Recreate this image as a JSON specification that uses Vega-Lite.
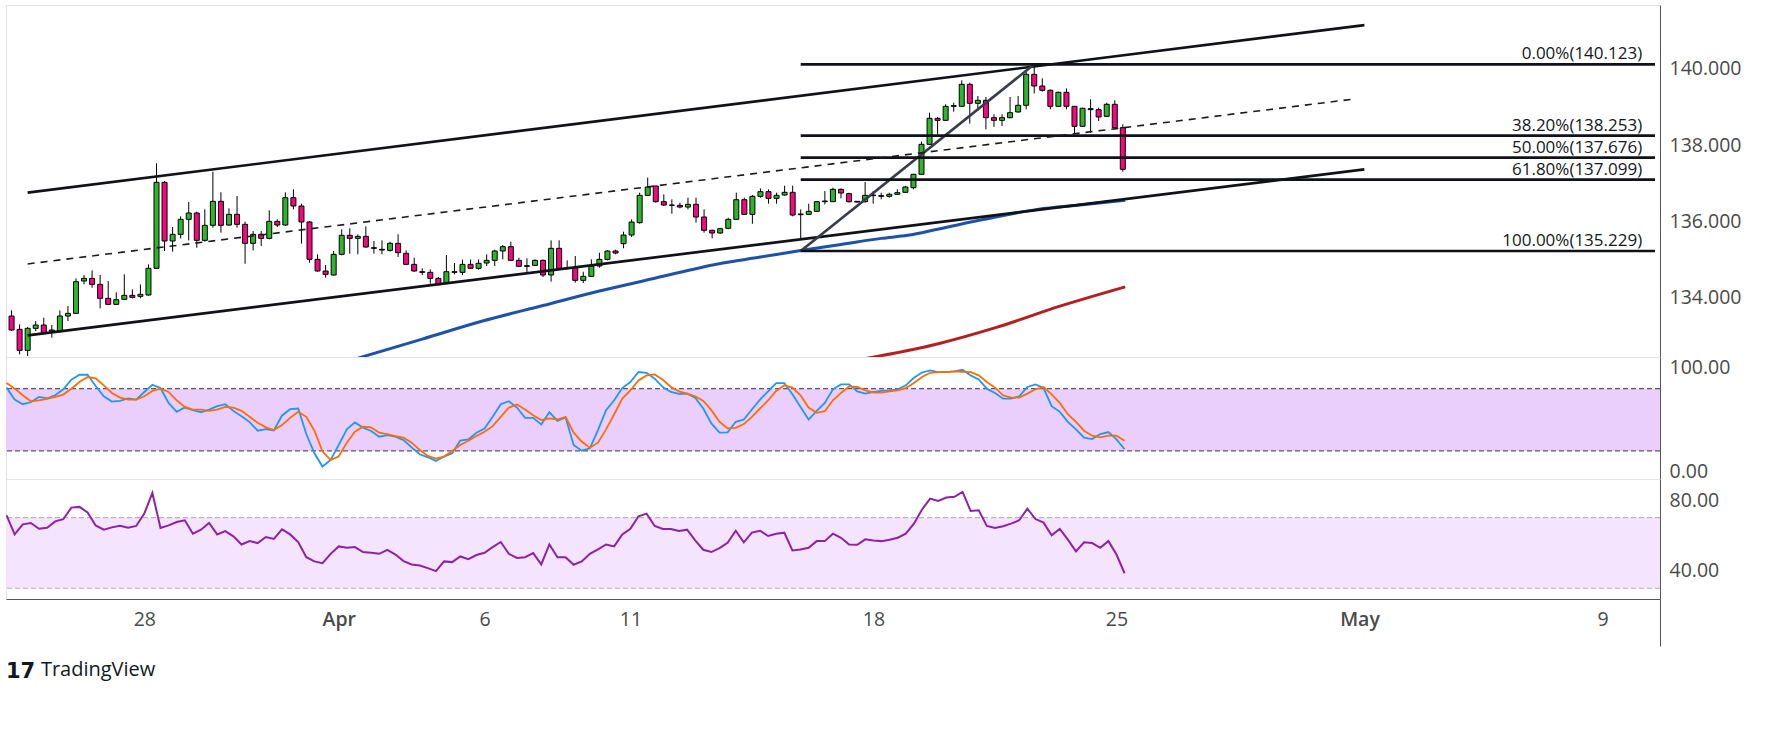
{
  "$schema": "https://vega.github.io/schema/vega-lite/v6.json",
  "background": "white",
  "padding": {"left": 4, "top": 4, "right": 5, "bottom": 5},
  "spacing": 0,
  "bounds": "flush",
  "title": {"text": "TradingView", "orient": "bottom", "anchor": "start", "font": "Open Sans", "fontSize": 20, "fontWeight": "normal", "color": "#131722", "offset": -22, "dx": 36},
  "datasets": {
    "bars": [
      {"i":-17,"o":133.525,"h":133.674,"l":133.132,"c":133.158,"k":81.0,"d":85.4,"r":71.3},
      {"i":-16,"o":133.176,"h":133.307,"l":132.520,"c":132.625,"k":69.5,"d":80.0,"r":60.5},
      {"i":-15,"o":132.625,"h":133.237,"l":132.477,"c":133.202,"k":65.0,"d":73.6,"r":66.2},
      {"i":-14,"o":133.202,"h":133.394,"l":133.132,"c":133.289,"k":66.9,"d":67.9,"r":67.0},
      {"i":-13,"o":133.289,"h":133.481,"l":133.062,"c":133.088,"k":72.0,"d":68.8,"r":63.7},
      {"i":-12,"o":133.132,"h":133.289,"l":132.957,"c":133.158,"k":70.7,"d":70.1,"r":64.3},
      {"i":-11,"o":133.132,"h":133.674,"l":133.088,"c":133.525,"k":73.6,"d":72.0,"r":67.9},
      {"i":-10,"o":133.525,"h":133.787,"l":133.394,"c":133.595,"k":79.4,"d":74.3,"r":69.1},
      {"i":-9,"o":133.595,"h":134.512,"l":133.586,"c":134.425,"k":88.6,"d":80.0,"r":75.7},
      {"i":-8,"o":134.443,"h":134.600,"l":134.355,"c":134.512,"k":93.4,"d":86.4,"r":76.1},
      {"i":-7,"o":134.512,"h":134.722,"l":134.268,"c":134.355,"k":93.4,"d":91.2,"r":73.0},
      {"i":-6,"o":134.355,"h":134.600,"l":133.726,"c":133.988,"k":82.6,"d":89.9,"r":65.6},
      {"i":-5,"o":133.988,"h":134.443,"l":133.813,"c":133.831,"k":72.7,"d":83.2,"r":63.2},
      {"i":-4,"o":133.831,"h":134.146,"l":133.813,"c":133.953,"k":67.6,"d":75.9,"r":64.5},
      {"i":-3,"o":133.962,"h":134.617,"l":133.953,"c":134.067,"k":68.2,"d":71.4,"r":65.4},
      {"i":-2,"o":134.067,"h":134.224,"l":133.988,"c":134.014,"k":70.7,"d":69.5,"r":64.3},
      {"i":-1,"o":134.041,"h":134.355,"l":133.988,"c":134.093,"k":69.5,"d":69.5,"r":65.3},
      {"i":0,"o":134.076,"h":134.879,"l":134.058,"c":134.775,"k":76.8,"d":72.7,"r":72.3},
      {"i":1,"o":134.775,"h":137.527,"l":134.757,"c":137.029,"k":83.8,"d":77.8,"r":84.0},
      {"i":2,"o":137.029,"h":137.064,"l":135.229,"c":135.491,"k":80.6,"d":80.0,"r":64.1},
      {"i":3,"o":135.491,"h":135.858,"l":135.211,"c":135.666,"k":66.3,"d":76.8,"r":65.6},
      {"i":4,"o":135.666,"h":136.138,"l":135.561,"c":136.059,"k":57.7,"d":68.8,"r":67.5},
      {"i":5,"o":136.059,"h":136.513,"l":135.508,"c":136.225,"k":61.8,"d":62.4,"r":68.5},
      {"i":6,"o":136.225,"h":136.260,"l":135.316,"c":135.508,"k":59.3,"d":59.9,"r":60.9},
      {"i":7,"o":135.508,"h":136.321,"l":135.474,"c":135.902,"k":57.3,"d":59.9,"r":63.2},
      {"i":8,"o":135.902,"h":137.308,"l":135.840,"c":136.531,"k":59.9,"d":58.6,"r":67.0},
      {"i":9,"o":136.531,"h":136.767,"l":135.709,"c":135.902,"k":63.1,"d":59.9,"r":60.5},
      {"i":10,"o":135.910,"h":136.347,"l":135.884,"c":136.190,"k":65.0,"d":62.4,"r":62.4},
      {"i":11,"o":136.190,"h":136.671,"l":135.840,"c":135.928,"k":58.6,"d":61.8,"r":59.4},
      {"i":12,"o":135.928,"h":135.998,"l":134.897,"c":135.430,"k":53.5,"d":58.6,"r":54.8},
      {"i":13,"o":135.430,"h":135.753,"l":135.246,"c":135.666,"k":47.8,"d":52.9,"r":56.7},
      {"i":14,"o":135.666,"h":135.753,"l":135.360,"c":135.561,"k":39.5,"d":47.1,"r":55.6},
      {"i":15,"o":135.561,"h":136.295,"l":135.535,"c":136.006,"k":41.1,"d":42.7,"r":59.0},
      {"i":16,"o":136.006,"h":136.059,"l":135.858,"c":135.910,"k":39.8,"d":40.1,"r":57.9},
      {"i":17,"o":135.910,"h":136.767,"l":135.893,"c":136.627,"k":54.2,"d":44.9,"r":63.4},
      {"i":18,"o":136.627,"h":136.845,"l":136.321,"c":136.408,"k":60.2,"d":51.9,"r":60.5},
      {"i":19,"o":136.408,"h":136.470,"l":135.421,"c":135.989,"k":60.9,"d":57.7,"r":56.2},
      {"i":20,"o":135.989,"h":136.015,"l":134.923,"c":135.010,"k":36.3,"d":52.9,"r":47.6},
      {"i":21,"o":135.010,"h":135.142,"l":134.687,"c":134.705,"k":17.8,"d":39.5,"r":45.2},
      {"i":22,"o":134.705,"h":134.862,"l":134.530,"c":134.617,"k":5.0,"d":19.4,"r":44.2},
      {"i":23,"o":134.600,"h":135.229,"l":134.582,"c":135.142,"k":11.4,"d":11.4,"r":49.5},
      {"i":24,"o":135.142,"h":135.797,"l":135.115,"c":135.640,"k":25.8,"d":14.6,"r":53.7},
      {"i":25,"o":135.640,"h":135.823,"l":135.159,"c":135.561,"k":40.8,"d":28.0,"r":52.9},
      {"i":26,"o":135.561,"h":135.666,"l":135.142,"c":135.613,"k":47.5,"d":38.5,"r":53.3},
      {"i":27,"o":135.613,"h":135.875,"l":135.316,"c":135.334,"k":42.3,"d":43.3,"r":50.5},
      {"i":28,"o":135.316,"h":135.491,"l":135.159,"c":135.299,"k":39.2,"d":42.7,"r":50.1},
      {"i":29,"o":135.273,"h":135.508,"l":135.142,"c":135.255,"k":33.7,"d":37.6,"r":49.5},
      {"i":30,"o":135.246,"h":135.474,"l":135.211,"c":135.430,"k":35.3,"d":36.3,"r":51.8},
      {"i":31,"o":135.430,"h":135.666,"l":135.072,"c":135.185,"k":33.7,"d":34.4,"r":49.1},
      {"i":32,"o":135.168,"h":135.246,"l":134.862,"c":134.879,"k":30.5,"d":32.8,"r":45.4},
      {"i":33,"o":134.879,"h":135.054,"l":134.687,"c":134.705,"k":23.5,"d":28.0,"r":43.5},
      {"i":34,"o":134.687,"h":134.775,"l":134.600,"c":134.670,"k":16.8,"d":21.0,"r":42.9},
      {"i":35,"o":134.670,"h":134.748,"l":134.373,"c":134.512,"k":13.9,"d":15.2,"r":41.4},
      {"i":36,"o":134.512,"h":134.547,"l":134.320,"c":134.373,"k":10.4,"d":12.7,"r":39.7},
      {"i":37,"o":134.399,"h":135.124,"l":134.355,"c":134.687,"k":14.6,"d":14.6,"r":45.2},
      {"i":38,"o":134.687,"h":134.914,"l":134.617,"c":134.670,"k":17.8,"d":20.0,"r":44.8},
      {"i":39,"o":134.670,"h":135.002,"l":134.600,"c":134.879,"k":29.9,"d":25.8,"r":48.0},
      {"i":40,"o":134.879,"h":135.002,"l":134.757,"c":134.775,"k":31.2,"d":29.9,"r":46.5},
      {"i":41,"o":134.775,"h":135.010,"l":134.740,"c":134.906,"k":37.6,"d":34.4,"r":48.8},
      {"i":42,"o":134.914,"h":135.142,"l":134.836,"c":134.984,"k":41.7,"d":38.5,"r":50.1},
      {"i":43,"o":134.984,"h":135.264,"l":134.836,"c":135.229,"k":52.9,"d":43.9,"r":53.3},
      {"i":44,"o":135.229,"h":135.386,"l":135.010,"c":135.342,"k":65.0,"d":52.9,"r":56.2},
      {"i":45,"o":135.342,"h":135.474,"l":134.967,"c":134.984,"k":67.9,"d":61.8,"r":49.5},
      {"i":46,"o":134.984,"h":135.054,"l":134.810,"c":134.827,"k":61.8,"d":64.7,"r":47.2},
      {"i":47,"o":134.844,"h":135.037,"l":134.661,"c":134.827,"k":51.9,"d":59.9,"r":47.6},
      {"i":48,"o":134.853,"h":135.010,"l":134.836,"c":134.984,"k":51.9,"d":54.5,"r":49.9},
      {"i":49,"o":134.984,"h":135.010,"l":134.547,"c":134.600,"k":45.5,"d":49.7,"r":43.5},
      {"i":50,"o":134.600,"h":135.508,"l":134.425,"c":135.299,"k":57.3,"d":51.3,"r":54.8},
      {"i":51,"o":135.299,"h":135.508,"l":134.757,"c":134.775,"k":49.0,"d":50.3,"r":47.6},
      {"i":52,"o":134.792,"h":134.984,"l":134.748,"c":134.775,"k":52.2,"d":52.9,"r":47.6},
      {"i":53,"o":134.792,"h":135.098,"l":134.399,"c":134.460,"k":25.8,"d":37.6,"r":43.3},
      {"i":54,"o":134.460,"h":134.687,"l":134.390,"c":134.565,"k":20.3,"d":28.9,"r":45.2},
      {"i":55,"o":134.565,"h":135.010,"l":134.547,"c":134.836,"k":22.6,"d":23.2,"r":49.5},
      {"i":56,"o":134.836,"h":135.185,"l":134.792,"c":135.010,"k":40.1,"d":28.0,"r":52.0},
      {"i":57,"o":135.010,"h":135.246,"l":134.984,"c":135.229,"k":59.3,"d":40.8,"r":54.8},
      {"i":58,"o":135.229,"h":135.264,"l":135.142,"c":135.176,"k":68.8,"d":55.4,"r":53.7},
      {"i":59,"o":135.421,"h":135.736,"l":135.299,"c":135.648,"k":80.6,"d":70.4,"r":60.5},
      {"i":60,"o":135.648,"h":136.059,"l":135.596,"c":135.989,"k":86.4,"d":78.4,"r":63.7},
      {"i":61,"o":135.972,"h":136.758,"l":135.945,"c":136.688,"k":96.0,"d":88.0,"r":70.8},
      {"i":62,"o":136.688,"h":137.151,"l":136.671,"c":136.906,"k":95.3,"d":92.8,"r":72.3},
      {"i":63,"o":136.933,"h":136.933,"l":136.496,"c":136.522,"k":89.6,"d":93.7,"r":65.3},
      {"i":64,"o":136.522,"h":136.714,"l":136.408,"c":136.435,"k":81.6,"d":88.6,"r":63.6},
      {"i":65,"o":136.435,"h":136.583,"l":136.207,"c":136.426,"k":76.8,"d":81.6,"r":63.6},
      {"i":66,"o":136.426,"h":136.496,"l":136.347,"c":136.382,"k":74.9,"d":77.4,"r":62.4},
      {"i":67,"o":136.382,"h":136.627,"l":136.321,"c":136.452,"k":75.2,"d":75.2,"r":63.2},
      {"i":68,"o":136.452,"h":136.627,"l":135.972,"c":136.120,"k":71.4,"d":72.7,"r":57.1},
      {"i":69,"o":136.120,"h":136.321,"l":135.709,"c":135.771,"k":60.9,"d":68.2,"r":51.8},
      {"i":70,"o":135.771,"h":135.788,"l":135.561,"c":135.701,"k":46.5,"d":59.3,"r":50.5},
      {"i":71,"o":135.701,"h":135.840,"l":135.683,"c":135.814,"k":37.6,"d":48.1,"r":52.7},
      {"i":72,"o":135.823,"h":136.103,"l":135.797,"c":136.059,"k":37.9,"d":41.7,"r":55.8},
      {"i":73,"o":136.059,"h":136.758,"l":136.041,"c":136.574,"k":48.1,"d":42.3,"r":62.6},
      {"i":74,"o":136.574,"h":136.627,"l":136.172,"c":136.190,"k":50.3,"d":45.9,"r":56.0},
      {"i":75,"o":136.190,"h":136.697,"l":135.945,"c":136.662,"k":59.9,"d":52.9,"r":61.5},
      {"i":76,"o":136.662,"h":136.871,"l":136.627,"c":136.784,"k":69.5,"d":60.9,"r":62.6},
      {"i":77,"o":136.784,"h":136.845,"l":136.470,"c":136.609,"k":77.4,"d":68.8,"r":59.6},
      {"i":78,"o":136.609,"h":136.758,"l":136.470,"c":136.688,"k":85.4,"d":77.8,"r":60.9},
      {"i":79,"o":136.697,"h":136.941,"l":136.679,"c":136.767,"k":85.4,"d":83.2,"r":61.5},
      {"i":80,"o":136.767,"h":136.941,"l":136.138,"c":136.172,"k":74.6,"d":81.0,"r":51.4},
      {"i":81,"o":136.199,"h":136.321,"l":135.561,"c":136.181,"k":62.4,"d":73.6,"r":52.0},
      {"i":82,"o":136.190,"h":136.470,"l":136.172,"c":136.269,"k":50.3,"d":61.8,"r":52.9},
      {"i":83,"o":136.269,"h":136.539,"l":136.251,"c":136.522,"k":58.6,"d":56.7,"r":56.7},
      {"i":84,"o":136.539,"h":136.802,"l":136.452,"c":136.522,"k":66.3,"d":58.3,"r":56.7},
      {"i":85,"o":136.522,"h":136.889,"l":136.513,"c":136.845,"k":79.4,"d":68.8,"r":60.9},
      {"i":86,"o":136.845,"h":136.871,"l":136.609,"c":136.749,"k":84.1,"d":75.9,"r":58.6},
      {"i":87,"o":136.732,"h":136.758,"l":136.496,"c":136.522,"k":84.1,"d":82.2,"r":54.8},
      {"i":88,"o":136.531,"h":136.539,"l":136.496,"c":136.513,"k":77.4,"d":81.6,"r":54.6},
      {"i":89,"o":136.522,"h":137.037,"l":136.496,"c":136.688,"k":75.2,"d":78.4,"r":57.7},
      {"i":90,"o":136.697,"h":136.802,"l":136.470,"c":136.680,"k":76.8,"d":76.2,"r":57.1},
      {"i":91,"o":136.680,"h":136.758,"l":136.584,"c":136.662,"k":77.8,"d":76.2,"r":56.7},
      {"i":92,"o":136.662,"h":136.758,"l":136.627,"c":136.715,"k":78.4,"d":77.4,"r":57.5},
      {"i":93,"o":136.715,"h":136.846,"l":136.697,"c":136.758,"k":79.4,"d":78.4,"r":58.6},
      {"i":94,"o":136.767,"h":136.933,"l":136.758,"c":136.907,"k":83.2,"d":80.6,"r":60.9},
      {"i":95,"o":136.889,"h":137.256,"l":136.846,"c":137.239,"k":90.5,"d":85.4,"r":66.6},
      {"i":96,"o":137.239,"h":138.095,"l":137.221,"c":138.025,"k":95.6,"d":91.2,"r":74.6},
      {"i":97,"o":138.025,"h":138.855,"l":138.008,"c":138.707,"k":97.6,"d":95.3,"r":80.8},
      {"i":98,"o":138.707,"h":138.742,"l":138.287,"c":138.654,"k":96.0,"d":96.0,"r":79.5},
      {"i":99,"o":138.654,"h":139.074,"l":138.637,"c":139.021,"k":96.0,"d":96.0,"r":81.4},
      {"i":100,"o":139.039,"h":139.117,"l":138.881,"c":139.021,"k":96.6,"d":96.6,"r":81.8},
      {"i":101,"o":139.021,"h":139.703,"l":139.004,"c":139.598,"k":98.2,"d":96.3,"r":84.6},
      {"i":102,"o":139.598,"h":139.642,"l":138.567,"c":139.100,"k":92.8,"d":96.0,"r":73.8},
      {"i":103,"o":139.100,"h":139.292,"l":138.899,"c":139.179,"k":88.9,"d":92.8,"r":74.2},
      {"i":104,"o":139.179,"h":139.266,"l":138.418,"c":138.724,"k":80.0,"d":86.4,"r":65.3},
      {"i":105,"o":138.724,"h":138.812,"l":138.480,"c":138.654,"k":75.9,"d":81.0,"r":64.1},
      {"i":106,"o":138.654,"h":138.812,"l":138.506,"c":138.724,"k":70.4,"d":73.6,"r":65.1},
      {"i":107,"o":138.724,"h":139.266,"l":138.707,"c":138.855,"k":70.4,"d":71.4,"r":66.6},
      {"i":108,"o":138.873,"h":139.292,"l":138.855,"c":139.048,"k":72.7,"d":71.4,"r":68.5},
      {"i":109,"o":139.048,"h":139.965,"l":138.943,"c":139.860,"k":81.6,"d":75.2,"r":75.1},
      {"i":110,"o":139.860,"h":140.123,"l":139.362,"c":139.554,"k":84.1,"d":79.4,"r":69.2},
      {"i":111,"o":139.554,"h":139.755,"l":139.406,"c":139.441,"k":80.6,"d":81.6,"r":67.2},
      {"i":112,"o":139.441,"h":139.467,"l":138.943,"c":139.021,"k":63.1,"d":74.6,"r":60.0},
      {"i":113,"o":139.021,"h":139.406,"l":139.012,"c":139.388,"k":57.7,"d":66.3,"r":63.6},
      {"i":114,"o":139.388,"h":139.493,"l":138.943,"c":139.021,"k":48.1,"d":55.4,"r":57.5},
      {"i":115,"o":139.021,"h":139.030,"l":138.305,"c":138.497,"k":40.8,"d":48.1,"r":50.9},
      {"i":116,"o":138.497,"h":138.986,"l":138.480,"c":138.969,"k":32.8,"d":39.5,"r":56.0},
      {"i":117,"o":138.960,"h":139.205,"l":138.331,"c":138.934,"k":31.5,"d":34.7,"r":55.6},
      {"i":118,"o":138.934,"h":138.986,"l":138.637,"c":138.742,"k":36.3,"d":33.1,"r":52.9},
      {"i":119,"o":138.759,"h":139.117,"l":138.742,"c":139.074,"k":38.2,"d":34.7,"r":56.7},
      {"i":120,"o":139.074,"h":139.179,"l":138.418,"c":138.462,"k":31.2,"d":34.7,"r":49.1},
      {"i":121,"o":138.462,"h":138.550,"l":137.309,"c":137.370,"k":21.6,"d":29.9,"r":38.5}
    ],
    "segs": [
      {"kind":"channel","x1":-15,"y1":136.76,"x2":151,"y2":141.15},
      {"kind":"channel","x1":-15,"y1":133.02,"x2":151,"y2":137.37},
      {"kind":"fibdiag","x1":81,"y1":135.229,"x2":110,"y2":140.123},
      {"kind":"fib","x1":81,"y1":140.123,"x2":187.09,"y2":140.123},
      {"kind":"fib","x1":81,"y1":138.253,"x2":187.09,"y2":138.253},
      {"kind":"fib","x1":81,"y1":137.676,"x2":187.09,"y2":137.676},
      {"kind":"fib","x1":81,"y1":137.099,"x2":187.09,"y2":137.099},
      {"kind":"fib","x1":81,"y1":135.229,"x2":187.09,"y2":135.229}
    ],
    "mid": [
      {"x1":-15,"y1":134.89,"x2":150,"y2":139.22}
    ],
    "fibs": [
      {"t":"0.00%(140.123)","p":140.123},
      {"t":"38.20%(138.253)","p":138.253},
      {"t":"50.00%(137.676)","p":137.676},
      {"t":"61.80%(137.099)","p":137.099},
      {"t":"100.00%(135.229)","p":135.229}
    ],
    "ma": [
      {"s":"ma1","i":26,"p":132.42},
      {"s":"ma1","i":34,"p":132.92},
      {"s":"ma1","i":41.6,"p":133.40},
      {"s":"ma1","i":49,"p":133.80},
      {"s":"ma1","i":56,"p":134.18},
      {"s":"ma1","i":63,"p":134.52},
      {"s":"ma1","i":70.7,"p":134.89},
      {"s":"ma1","i":76,"p":135.07},
      {"s":"ma1","i":81.2,"p":135.25},
      {"s":"ma1","i":86,"p":135.40},
      {"s":"ma1","i":91,"p":135.56},
      {"s":"ma1","i":94.3,"p":135.64},
      {"s":"ma1","i":98,"p":135.80},
      {"s":"ma1","i":103.8,"p":136.06},
      {"s":"ma1","i":110.4,"p":136.32},
      {"s":"ma1","i":116,"p":136.44},
      {"s":"ma1","i":121.3,"p":136.56},
      {"s":"ma2","i":88,"p":132.37},
      {"s":"ma2","i":98.1,"p":132.80},
      {"s":"ma2","i":105.2,"p":133.22},
      {"s":"ma2","i":113.3,"p":133.79},
      {"s":"ma2","i":121.3,"p":134.29}
    ]
  },
  "vconcat": [
    {
      "width": 1654,
      "height": 352,
      "layer": [
        {
          "data": {"name": "bars"},
          "mark": {"type": "rule", "color": "#000000", "strokeWidth": 1, "clip": true},
          "encoding": {
            "x": {"field": "i", "type": "quantitative", "scale": {"domain": [-17.07, 187.09], "nice": false, "zero": false}, "axis": null},
            "y": {"field": "l", "type": "quantitative", "scale": {"domain": [132.451, 141.677], "nice": false, "zero": false},
                  "axis": {"orient": "right", "values": [134, 136, 138, 140], "format": ".3f", "labelFlush": false, "labelOverlap": false, "title": null}},
            "y2": {"field": "h"}
          }
        },
        {
          "data": {"name": "bars"},
          "mark": {"type": "bar", "size": 5, "stroke": "#000000", "strokeWidth": 1, "clip": true},
          "encoding": {
            "x": {"field": "i", "type": "quantitative", "scale": {"domain": [-17.07, 187.09], "nice": false, "zero": false}, "axis": null},
            "y": {"field": "o", "type": "quantitative", "scale": {"domain": [132.451, 141.677], "nice": false, "zero": false},
                  "axis": {"orient": "right", "values": [134, 136, 138, 140], "format": ".3f", "labelFlush": false, "labelOverlap": false, "title": null}},
            "y2": {"field": "c"},
            "fill": {"condition": {"test": "datum.c >= datum.o", "value": "#2db52d"}, "value": "#f7077f"}
          }
        },
        {
          "data": {"name": "ma"},
          "mark": {"type": "line", "strokeWidth": 3, "clip": true, "interpolate": "monotone"},
          "encoding": {
            "x": {"field": "i", "type": "quantitative", "scale": {"domain": [-17.07, 187.09], "nice": false, "zero": false}, "axis": null},
            "y": {"field": "p", "type": "quantitative", "scale": {"domain": [132.451, 141.677], "nice": false, "zero": false},
                  "axis": {"orient": "right", "values": [134, 136, 138, 140], "format": ".3f", "labelFlush": false, "labelOverlap": false, "title": null}},
            "detail": {"field": "s"},
            "color": {"condition": {"test": "datum.s == 'ma1'", "value": "#1d52a8"}, "value": "#b3201f"}
          }
        },
        {
          "data": {"name": "segs"},
          "mark": {"type": "rule", "strokeWidth": 2.7, "clip": true},
          "encoding": {
            "x": {"field": "x1", "type": "quantitative", "scale": {"domain": [-17.07, 187.09], "nice": false, "zero": false}, "axis": null},
            "x2": {"field": "x2"},
            "y": {"field": "y1", "type": "quantitative", "scale": {"domain": [132.451, 141.677], "nice": false, "zero": false},
                  "axis": {"orient": "right", "values": [134, 136, 138, 140], "format": ".3f", "labelFlush": false, "labelOverlap": false, "title": null}},
            "y2": {"field": "y2"},
            "color": {"condition": {"test": "datum.kind == 'fibdiag'", "value": "#3a3d48"}, "value": "#111218"}
          }
        },
        {
          "data": {"name": "mid"},
          "mark": {"type": "rule", "strokeWidth": 1.6, "strokeDash": [7, 6], "color": "#1a1a1a", "clip": true},
          "encoding": {
            "x": {"field": "x1", "type": "quantitative", "scale": {"domain": [-17.07, 187.09], "nice": false, "zero": false}, "axis": null},
            "x2": {"field": "x2"},
            "y": {"field": "y1", "type": "quantitative", "scale": {"domain": [132.451, 141.677], "nice": false, "zero": false},
                  "axis": {"orient": "right", "values": [134, 136, 138, 140], "format": ".3f", "labelFlush": false, "labelOverlap": false, "title": null}},
            "y2": {"field": "y2"}
          }
        },
        {
          "data": {"name": "fibs"},
          "mark": {"type": "text", "align": "right", "baseline": "alphabetic", "dy": -5, "font": "Open Sans", "fontSize": 17, "color": "#131722"},
          "encoding": {
            "x": {"datum": 185.5, "type": "quantitative", "scale": {"domain": [-17.07, 187.09], "nice": false, "zero": false}, "axis": null},
            "y": {"field": "p", "type": "quantitative", "scale": {"domain": [132.451, 141.677], "nice": false, "zero": false},
                  "axis": {"orient": "right", "values": [134, 136, 138, 140], "format": ".3f", "labelFlush": false, "labelOverlap": false, "title": null}},
            "text": {"field": "t"}
          }
        }
      ]
    },
    {
      "width": 1654,
      "height": 122,
      "layer": [
        {
          "data": {"values": [{"lo": 20, "hi": 80}]},
          "mark": {"type": "rect", "color": "#eacffd"},
          "encoding": {
            "y": {"field": "lo", "type": "quantitative", "scale": {"domain": [-7.0, 110.5], "nice": false, "zero": false},
                  "axis": {"orient": "right", "values": [0, 100], "format": ".2f", "labelFlush": false, "labelOverlap": false, "title": null}},
            "y2": {"field": "hi"}
          }
        },
        {
          "data": {"values": [{"v": 20}, {"v": 80}]},
          "mark": {"type": "rule", "color": "#5c5566", "strokeWidth": 1.2, "strokeDash": [5, 3]},
          "encoding": {
            "y": {"field": "v", "type": "quantitative", "scale": {"domain": [-7.0, 110.5], "nice": false, "zero": false},
                  "axis": {"orient": "right", "values": [0, 100], "format": ".2f", "labelFlush": false, "labelOverlap": false, "title": null}}
          }
        },
        {
          "data": {"name": "bars"},
          "mark": {"type": "line", "color": "#2196f3", "strokeWidth": 1.8, "clip": true},
          "encoding": {
            "x": {"field": "i", "type": "quantitative", "scale": {"domain": [-17.07, 187.09], "nice": false, "zero": false}, "axis": null},
            "y": {"field": "k", "type": "quantitative", "scale": {"domain": [-7.0, 110.5], "nice": false, "zero": false},
                  "axis": {"orient": "right", "values": [0, 100], "format": ".2f", "labelFlush": false, "labelOverlap": false, "title": null}}
          }
        },
        {
          "data": {"name": "bars"},
          "mark": {"type": "line", "color": "#ff6d00", "strokeWidth": 1.8, "clip": true},
          "encoding": {
            "x": {"field": "i", "type": "quantitative", "scale": {"domain": [-17.07, 187.09], "nice": false, "zero": false}, "axis": null},
            "y": {"field": "d", "type": "quantitative", "scale": {"domain": [-7.0, 110.5], "nice": false, "zero": false},
                  "axis": {"orient": "right", "values": [0, 100], "format": ".2f", "labelFlush": false, "labelOverlap": false, "title": null}}
          }
        }
      ]
    },
    {
      "width": 1654,
      "height": 120,
      "layer": [
        {
          "data": {"values": [{"lo": 30, "hi": 70}]},
          "mark": {"type": "rect", "color": "#f4e4fd"},
          "encoding": {
            "y": {"field": "lo", "type": "quantitative", "scale": {"domain": [23.9, 91.9], "nice": false, "zero": false},
                  "axis": {"orient": "right", "values": [40, 80], "format": ".2f", "labelFlush": false, "labelOverlap": false, "title": null}},
            "y2": {"field": "hi"}
          }
        },
        {
          "data": {"values": [{"v": 30}, {"v": 70}]},
          "mark": {"type": "rule", "color": "#b4b4bc", "strokeWidth": 1.2, "strokeDash": [5, 3]},
          "encoding": {
            "y": {"field": "v", "type": "quantitative", "scale": {"domain": [23.9, 91.9], "nice": false, "zero": false},
                  "axis": {"orient": "right", "values": [40, 80], "format": ".2f", "labelFlush": false, "labelOverlap": false, "title": null}}
          }
        },
        {
          "data": {"name": "bars"},
          "mark": {"type": "line", "color": "#8c22a8", "strokeWidth": 2, "clip": true},
          "encoding": {
            "x": {"field": "i", "type": "quantitative", "scale": {"domain": [-17.07, 187.09], "nice": false, "zero": false},
                  "axis": {"orient": "bottom", "values": [0, 24, 42, 60, 90, 120, 150, 180, 187.09],
                           "labelExpr": "datum.value == 0 ? '28' : datum.value == 24 ? 'Apr' : datum.value == 42 ? '6' : datum.value == 60 ? '11' : datum.value == 90 ? '18' : datum.value == 120 ? '25' : datum.value == 150 ? 'May' : datum.value == 180 ? '9' : ''",
                           "labelFontWeight": {"condition": {"test": "datum.value == 24 || datum.value == 150", "value": 600}, "value": 400},
                           "ticks": true, "tickSize": 47, "tickWidth": 1,
                           "tickColor": {"condition": {"test": "datum.value > 186", "value": "#555555"}, "value": "rgba(0,0,0,0)"},
                           "labelPadding": -36, "labelOverlap": false, "labelFlush": false,
                           "title": "17", "titleFont": "DejaVu Sans", "titleFontSize": 21, "titleFontWeight": 900, "titleColor": "#131722",
                           "titleAnchor": "start", "titleAlign": "center", "titleBaseline": "middle", "titleX": 14, "titleY": 72}},
            "y": {"field": "r", "type": "quantitative", "scale": {"domain": [23.9, 91.9], "nice": false, "zero": false},
                  "axis": {"orient": "right", "values": [40, 80], "format": ".2f", "labelFlush": false, "labelOverlap": false, "title": null}}
          }
        }
      ]
    }
  ],
  "config": {
    "view": {"stroke": "#e0e3eb"},
    "axis": {"grid": false, "ticks": false, "domainColor": "#555555", "labelFont": "Open Sans", "labelFontSize": 19.5, "labelColor": "#4a4a4a", "labelPadding": 9}
  }
}
